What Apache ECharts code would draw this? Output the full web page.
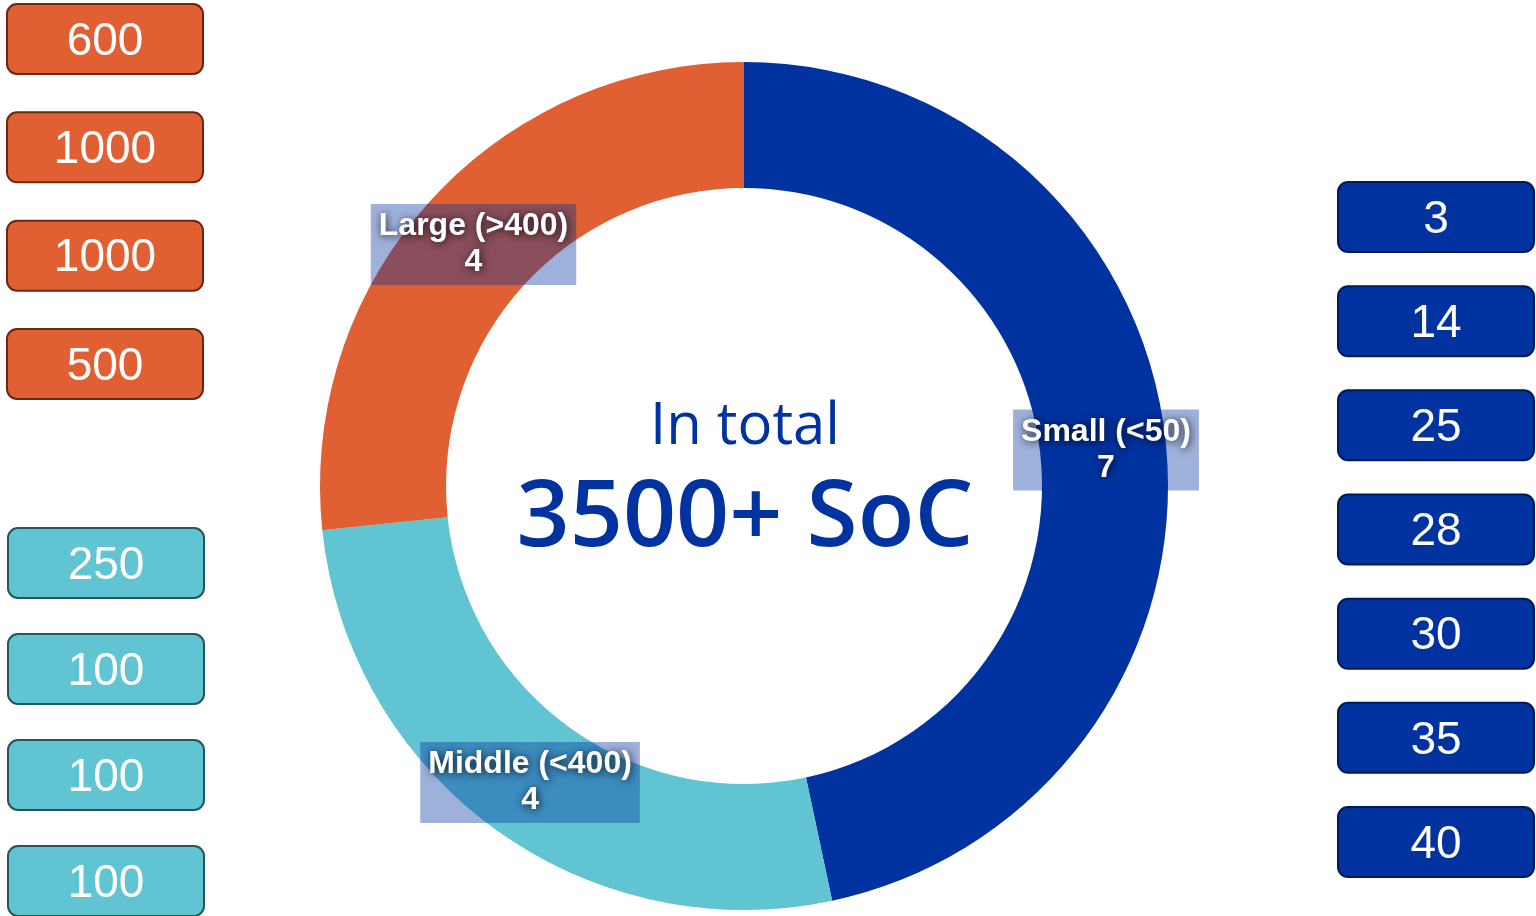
<!DOCTYPE html>
<html><head><meta charset="utf-8">
<script src="https://cdn.jsdelivr.net/npm/echarts@6/dist/echarts.min.js"></script>
<style>html,body{margin:0;padding:0;background:#fff}#c{width:1536px;height:916px}</style>
</head><body><div id="c"></div>
<script>
// ---- data ----
const segmentNames = ['Small (<50)', 'Middle (<400)', 'Large (>400)'];
const segmentCounts = [7, 4, 4];
const largeSizes = [600, 1000, 1000, 500];
const middleSizes = [250, 100, 100, 100];
const smallSizes = [3, 14, 25, 28, 30, 35, 40];
const totalTitle = 'In total';
const totalValue = '3500+ SoC';

// ---- styles ----
const BLUE = '#0033a0', ORANGE = '#e06033', CYAN = '#61c4d3';
const segColors = [BLUE, CYAN, ORANGE];

function boxRender(fill, stroke) {
  return function (params, api) {
    const c = api.coord([api.value(0), api.value(1)]);
    const w = api.size([1, 0])[0];
    const h = 70;
    return {
      type: 'group',
      children: [
        { type: 'rect', shape: { x: c[0] - w / 2, y: c[1] - h / 2 + 1, width: w, height: h, r: 10 },
          style: { fill: fill, stroke: stroke, lineWidth: 2 } },
        { type: 'text', x: c[0], y: c[1] + 4,
          style: { text: String(api.value(2)), fill: '#fff', font: '46px "Liberation Sans", Arial, sans-serif',
                   align: 'center', verticalAlign: 'middle', textAlign: 'center', textVerticalAlign: 'middle' } }
      ]
    };
  };
}
function boxData(arr) { return arr.map((v, i) => [0.5, i, v]); }
function cats(arr) { return arr.map((v, i) => i); }

const grids = [
  { left: 7, width: 196, top: 38, height: 325 },
  { left: 8, width: 196, top: 562, height: 318 },
  { left: 1338, width: 196, top: 216, height: 625 }
];
const groups = [largeSizes, middleSizes, smallSizes];
const fills = [ORANGE, CYAN, BLUE];
const strokes = ['#6a2812', '#24565e', '#001a55'];

const option = {
  animation: false,
  grid: grids,
  xAxis: grids.map((g, i) => ({ type: 'value', gridIndex: i, min: 0, max: 1, show: false })),
  yAxis: grids.map((g, i) => ({ type: 'category', gridIndex: i, data: cats(groups[i]), inverse: true, boundaryGap: false, show: false })),
  series: [
    ...groups.map((arr, i) => ({
      type: 'custom', xAxisIndex: i, yAxisIndex: i, silent: true,
      encode: { x: 0, y: 1 },
      renderItem: boxRender(fills[i], strokes[i]),
      data: boxData(arr)
    })),
    {
      type: 'pie', center: [744, 486], radius: [298, 424], startAngle: 90, clockwise: true,
      silent: true, avoidLabelOverlap: false,
      itemStyle: { borderWidth: 0 },
      label: {
        show: true, position: 'inside', formatter: '{b}\n{c}', color: '#fff', offset: [0, 2],
        fontFamily: '"Liberation Sans", Arial, sans-serif', fontWeight: 'bold', fontSize: 32, lineHeight: 36,
        backgroundColor: 'rgba(0,51,160,0.38)', padding: [6, 8, 3, 8],
        textShadowColor: 'rgba(0,0,0,0.85)', textShadowBlur: 8, textShadowOffsetX: 1, textShadowOffsetY: 1
      },
      labelLine: { show: false },
      emphasis: { disabled: true },
      data: segmentNames.map((n, i) => ({ name: n, value: segmentCounts[i], itemStyle: { color: segColors[i] } }))
    }
  ],
  graphic: [
    { type: 'text', x: 745, y: 427, silent: true,
      style: { text: totalTitle, fill: BLUE, font: '58px "Open Sans"', align: 'center', verticalAlign: 'middle' } },
    { type: 'text', x: 745, y: 519, silent: true,
      style: { text: totalValue, fill: BLUE, font: '600 93px "Open Sans"', align: 'center', verticalAlign: 'middle' } }
  ]
};
const chart = echarts.init(document.getElementById('c'));
chart.setOption(option);
</script>
</body></html>
